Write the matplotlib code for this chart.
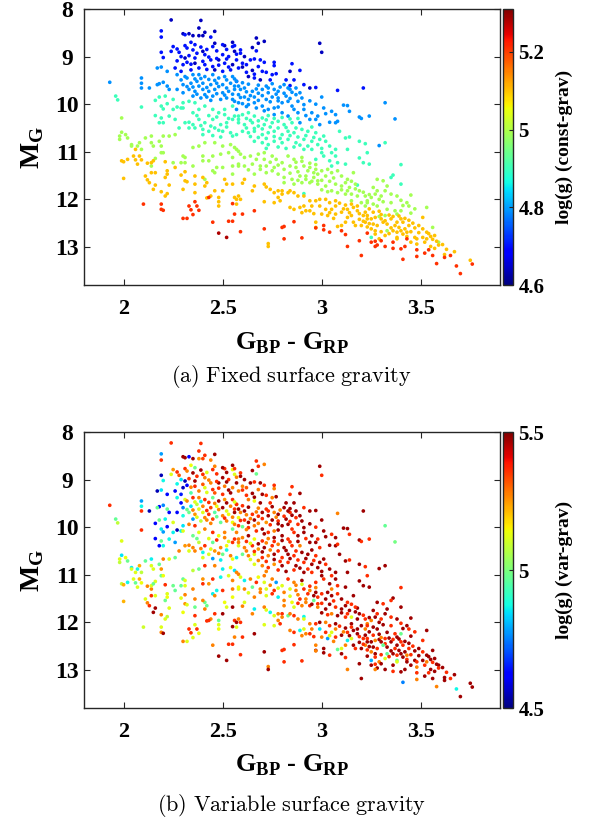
import numpy as np
import matplotlib
matplotlib.use('Agg')
import matplotlib.pyplot as plt

plt.rcParams['font.family'] = ['Liberation Serif', 'DejaVu Serif']
plt.rcParams['mathtext.fontset'] = 'custom'
plt.rcParams['mathtext.rm'] = 'Liberation Serif'
plt.rcParams['mathtext.bf'] = 'Liberation Serif:bold'

# %% star positions, grouped by the colour band they get in the fixed-gravity panel
logg_navy, logg_blue, logg_azure, logg_aqua = 4.64, 4.70, 4.79, 4.90
logg_yg, logg_orange, logg_red, logg_darkred = 4.99, 5.10, 5.21, 5.28

navy_bp_rp = [2.24, 2.39, 2.38, 2.41, 2.46, 2.30, 2.33, 2.35, 2.38, 2.40,
              2.31, 2.40, 2.46, 2.51, 2.55, 2.56, 2.48, 2.36, 2.55, 2.46,
              2.67, 2.71, 2.65, 2.61, 2.60, 2.65, 2.63, 2.69, 2.84, 2.94,
              2.99, 3.00, 2.68]
navy_mg = [8.23, 8.24, 8.40, 8.49, 8.47, 8.52, 8.52, 8.56, 8.56, 8.56,
           9.03, 8.89, 8.72, 8.77, 8.70, 8.89, 9.07, 9.14, 9.17, 9.28,
           8.61, 8.68, 8.81, 9.00, 9.22, 9.29, 9.42, 9.49, 9.31, 9.66,
           8.72, 8.91, 8.72]
navy_logg_var = [5.36, 5.36, 5.36, 5.36, 5.47, 5.47, 4.62, 5.47, 5.25, 5.34,
                 4.55, 5.36, 5.27, 5.36, 5.47, 5.12, 5.47, 5.36, 5.27, 5.32,
                 5.36, 5.27, 5.47, 5.47, 5.36, 5.47, 5.28, 5.47, 5.36, 5.47,
                 5.47, 5.36, 5.36]

blue_bp_rp = [2.19, 2.19, 2.31, 2.44, 2.34, 2.36, 2.31, 2.25, 2.24, 2.28,
              2.19, 2.20, 2.29, 2.32, 2.30, 2.35, 2.37, 2.41, 2.45, 2.50,
              2.55, 2.53, 2.50, 2.44, 2.40, 2.41, 2.45, 2.51, 2.57, 2.34,
              2.29, 2.38, 2.50, 2.54, 2.58, 2.59, 2.59, 2.56, 2.67, 2.64,
              2.66, 2.69, 2.71, 2.76, 2.76, 2.85, 2.89, 2.60, 2.62, 2.68,
              2.70, 2.72, 2.77, 2.75, 2.66, 2.74, 2.82, 2.86, 2.91, 2.97,
              2.84, 2.57, 3.08, 3.21,
              2.27, 2.32, 2.39, 2.42, 2.47, 2.52, 2.57, 2.33, 2.36, 2.43,
              2.47, 2.52, 2.27, 2.34, 2.48, 2.53, 2.42, 2.26, 2.62, 2.66]
blue_mg = [8.46, 8.59, 8.54, 8.59, 8.70, 8.75, 8.77, 8.79, 8.89, 8.91,
           8.91, 9.02, 9.00, 9.12, 9.17, 8.86, 8.93, 8.96, 8.79, 8.75,
           8.79, 9.00, 8.96, 9.07, 9.10, 9.17, 9.21, 9.14, 9.07, 9.28,
           9.31, 9.24, 9.31, 9.28, 9.24, 8.86, 8.93, 8.77, 8.88, 9.07,
           9.05, 9.07, 9.12, 9.12, 9.19, 9.15, 9.29, 9.14, 9.17, 9.21,
           9.31, 9.33, 9.36, 9.38, 9.45, 9.49, 9.49, 9.49, 9.59, 9.65,
           9.61, 9.52, 9.71, 9.66,
           8.84, 8.82, 8.80, 8.85, 8.88, 8.85, 8.95, 8.98, 9.03, 9.01,
           9.04, 9.05, 9.09, 9.16, 9.18, 9.22, 9.27, 9.24, 9.33, 9.37]
blue_logg_var = [4.78, 5.36, 5.47, 5.27, 5.14, 4.98, 5.36, 5.25, 5.12, 5.32,
                 4.55, 4.87, 4.85, 4.62, 4.56, 5.47, 5.36, 5.27, 5.36, 5.47,
                 5.14, 5.36, 5.47, 5.27, 5.32, 5.12, 5.36, 5.28, 5.47, 4.95,
                 4.65, 5.27, 5.36, 5.47, 5.27, 5.36, 5.47, 5.36, 4.98, 5.47,
                 5.36, 5.47, 5.36, 5.36, 5.27, 5.36, 5.47, 5.27, 5.32, 5.28,
                 5.47, 5.36, 5.47, 5.27, 5.14, 5.36, 5.47, 5.47, 5.36, 5.47,
                 5.47, 5.27, 5.27, 5.47,
                 5.36, 5.27, 5.47, 5.12, 5.36, 5.47, 5.27, 5.36, 5.47, 5.27,
                 5.36, 5.47, 4.87, 5.27, 5.36, 5.47, 5.12, 4.63, 5.36, 5.47]

azure_bp_rp = [2.27, 2.29, 2.31, 2.35, 2.38, 2.41, 2.45, 2.48, 2.51, 2.55,
               2.30, 2.34, 2.37, 2.40, 2.44, 2.47, 2.50, 2.54, 2.57, 2.27,
               2.30, 2.33, 2.36, 2.40, 2.43, 2.46, 2.50, 2.53, 2.56, 2.35,
               2.39, 2.42, 2.45, 2.49, 2.52, 2.55, 2.58, 2.57, 2.17, 2.19,
               2.22, 2.09, 2.09, 2.09, 2.18, 2.17, 2.20, 2.22, 2.23, 2.13,
               1.93,
               2.56, 2.59, 2.61, 2.65, 2.67, 2.70, 2.73, 2.76, 2.78, 2.81,
               2.84, 2.87, 2.58, 2.61, 2.64, 2.66, 2.70, 2.72, 2.75, 2.78,
               2.82, 2.87, 2.89, 3.00, 2.56, 2.60, 2.63, 2.66, 2.70, 2.73,
               2.76, 2.80, 2.83, 2.88, 2.91, 2.91, 2.86, 2.80, 2.83, 2.76,
               2.95, 2.98, 2.97, 3.01, 3.05, 3.07, 3.11, 3.13, 3.14, 3.19,
               3.20, 3.04, 3.07, 3.08, 2.89, 2.94, 2.99,
               3.32, 3.24, 3.37, 3.29,
               2.32, 2.36, 2.39, 2.43, 2.46, 2.52, 2.56, 2.60, 2.63, 2.68,
               2.72, 2.75, 2.79, 2.83, 2.32, 2.35, 2.38, 2.42, 2.48, 2.52,
               2.58, 2.62, 2.68, 2.73, 2.77, 2.81, 2.85, 2.37, 2.41, 2.47,
               2.51, 2.55, 2.59, 2.63, 2.68, 2.74, 2.78, 2.84, 2.90, 2.94,
               2.97, 2.62, 2.67, 2.71, 2.78, 2.85, 2.88, 2.92, 3.02, 2.44]
azure_mg = [9.38, 9.49, 9.42, 9.38, 9.38, 9.42, 9.38, 9.45, 9.42, 9.42,
            9.59, 9.56, 9.52, 9.56, 9.59, 9.56, 9.59, 9.56, 9.52, 9.69,
            9.76, 9.69, 9.73, 9.69, 9.73, 9.69, 9.76, 9.73, 9.69, 9.83,
            9.87, 9.85, 9.83, 9.90, 9.87, 9.90, 9.97, 10.11, 9.24, 9.22,
            9.31, 9.45, 9.56, 9.66, 9.57, 9.59, 9.54, 9.62, 9.69, 9.66,
            9.54,
            9.62, 9.69, 9.66, 9.73, 9.68, 9.69, 9.66, 9.69, 9.73, 9.59,
            9.69, 9.66, 9.80, 9.85, 9.82, 9.85, 9.82, 9.90, 9.85, 9.87,
            9.83, 9.80, 9.76, 9.85, 9.94, 9.99, 10.01, 9.97, 10.04, 10.11,
            10.08, 9.97, 9.94, 9.94, 10.01, 10.11, 10.11, 10.18, 10.25, 10.22,
            10.18, 10.25, 10.32, 10.08, 10.15, 10.22, 10.02, 10.03, 10.15, 10.27,
            10.30, 10.38, 10.39, 10.36, 10.39, 10.32, 10.43,
            9.97, 10.25, 10.31, 10.87,
            9.45, 9.47, 9.46, 9.48, 9.50, 9.49, 9.47, 9.55, 9.58, 9.60,
            9.62, 9.57, 9.64, 9.66, 9.63, 9.64, 9.62, 9.65, 9.63, 9.66,
            9.62, 9.74, 9.77, 9.76, 9.79, 9.77, 9.75, 9.79, 9.80, 9.78,
            9.81, 9.79, 9.86, 9.90, 9.92, 9.95, 9.93, 9.88, 9.87, 9.93,
            10.00, 10.05, 10.08, 10.14, 10.06, 10.04, 10.18, 10.24, 10.20, 9.92]
azure_logg_var = [4.87, 4.62, 5.12, 5.36, 5.27, 5.36, 4.98, 5.47, 5.25, 5.36,
                  4.75, 4.85, 5.08, 5.27, 5.34, 5.14, 5.47, 5.27, 5.36, 4.63,
                  4.88, 4.98, 5.25, 5.12, 5.36, 4.95, 5.27, 5.14, 5.47, 4.78,
                  5.08, 5.27, 5.34, 4.97, 5.27, 5.14, 5.36, 5.27, 4.55, 4.85,
                  4.63, 4.78, 4.87, 5.36, 4.62, 4.97, 4.76, 4.98, 4.63, 4.55,
                  5.36,
                  5.36, 5.27, 5.47, 5.36, 5.28, 5.47, 5.36, 5.27, 5.47, 5.47,
                  5.36, 5.47, 5.14, 5.36, 5.27, 5.47, 5.36, 5.25, 5.47, 5.36,
                  5.47, 5.36, 5.47, 5.47, 5.27, 4.98, 5.36, 5.28, 5.47, 5.36,
                  5.27, 5.47, 5.47, 5.36, 5.47, 5.47, 5.36, 5.47, 5.36, 5.47,
                  5.47, 5.36, 5.47, 5.47, 5.36, 5.47, 5.47, 5.47, 5.36, 5.47,
                  5.36, 5.47, 5.47, 5.36, 5.27, 5.47, 5.36,
                  4.97, 5.36, 4.99, 5.47,
                  5.27, 5.12, 4.87, 5.36, 5.27, 5.47, 5.12, 5.36, 5.47, 5.27,
                  5.36, 5.47, 5.27, 5.47, 4.98, 5.27, 5.12, 5.36, 5.27, 5.12,
                  5.47, 5.27, 5.36, 5.47, 5.27, 5.36, 5.47, 5.12, 5.27, 4.98,
                  5.36, 5.27, 5.36, 5.47, 5.27, 5.36, 5.47, 5.36, 5.47, 5.47,
                  5.36, 5.27, 5.36, 5.47, 5.47, 5.36, 5.47, 5.36, 5.47, 5.27]

aqua_bp_rp = [1.96, 1.97, 2.16, 2.18, 2.19, 2.21, 2.22, 2.20, 2.25, 2.27,
              2.25, 2.29, 2.30, 2.30, 2.33, 2.36, 2.35, 2.38, 2.41, 2.45,
              2.48, 2.51, 2.55, 2.16, 2.19, 2.23, 2.26, 2.31, 2.35, 2.38,
              2.41, 2.45, 2.49, 2.52, 2.55, 2.58, 2.28, 2.33, 2.36, 2.40,
              2.43, 2.46, 2.50, 2.54, 2.57, 2.18, 2.20, 2.09, 2.40, 2.45,
              2.49, 2.55,
              2.56, 2.60, 2.63, 2.66, 2.70, 2.73, 2.58, 2.61, 2.65, 2.68,
              2.71, 2.75, 2.78, 2.81, 2.85, 2.60, 2.63, 2.66, 2.70, 2.73,
              2.76, 2.80, 2.83, 2.86, 2.90, 2.93, 2.97, 3.01, 2.66, 2.70,
              2.73, 2.76, 2.80, 2.83, 2.87, 2.91, 2.95, 2.98, 3.02, 3.04,
              3.07, 3.09, 3.12, 3.14, 3.19, 3.22, 3.13, 3.01, 3.04, 3.07,
              3.08, 3.12, 3.05, 3.19, 3.21, 3.23, 2.97, 2.91, 2.95, 3.00,
              3.32, 3.24, 3.40, 3.36, 3.35, 3.40, 3.25, 3.18, 2.91,
              2.58, 2.62, 2.64, 2.68, 2.72, 2.76, 2.80, 2.84, 2.88, 2.62,
              2.66, 2.70, 2.74, 2.78, 2.82, 2.87, 2.95, 2.64, 2.68, 2.72,
              2.76, 2.79, 2.84, 2.88, 2.92, 2.96, 2.99, 2.72, 2.78, 2.82,
              2.86, 2.89, 2.93, 3.00, 3.05, 2.44, 2.48, 2.52, 2.39, 2.43,
              2.47, 2.51, 2.37, 2.53, 2.33]
aqua_mg = [9.83, 9.91, 9.92, 9.85, 10.04, 9.83, 9.99, 10.10, 9.90, 10.06,
           10.11, 10.08, 10.08, 9.97, 9.94, 9.97, 10.18, 10.11, 10.04, 10.11,
           10.18, 10.11, 10.04, 10.24, 10.29, 10.25, 10.32, 10.39, 10.43, 10.32,
           10.39, 10.32, 10.43, 10.39, 10.32, 10.25, 10.50, 10.50, 10.50, 10.53,
           10.57, 10.50, 10.57, 10.60, 10.64, 10.39, 10.39, 10.06, 10.64, 10.66,
           10.69, 10.67,
           10.25, 10.22, 10.18, 10.25, 10.29, 10.24, 10.39, 10.43, 10.39, 10.46,
           10.43, 10.39, 10.36, 10.43, 10.39, 10.57, 10.60, 10.57, 10.64, 10.60,
           10.57, 10.64, 10.57, 10.60, 10.53, 10.57, 10.60, 10.67, 10.78, 10.81,
           10.85, 10.78, 10.81, 10.74, 10.81, 10.74, 10.78, 10.85, 10.78, 10.88,
           10.95, 10.57, 10.71, 10.69, 10.78, 10.83, 10.95, 11.09, 11.19, 11.09,
           11.23, 11.26, 11.30, 11.13, 11.23, 11.02, 11.16, 10.95, 10.95, 11.02,
           10.81, 11.26, 11.27, 11.49, 11.54, 11.68, 12.80, 11.70, 11.88,
           10.32, 10.30, 10.34, 10.35, 10.33, 10.30, 10.28, 10.31, 10.30, 10.50,
           10.51, 10.52, 10.48, 10.50, 10.49, 10.50, 10.48, 10.68, 10.70, 10.72,
           10.68, 10.72, 10.66, 10.69, 10.66, 10.70, 10.74, 10.93, 10.90, 10.93,
           10.90, 10.86, 10.88, 10.93, 11.02, 10.46, 10.55, 10.48, 10.45, 10.24,
           10.27, 10.22, 10.24, 10.30, 10.38]
aqua_logg_var = [4.97, 5.08, 4.62, 4.98, 4.86, 4.87, 4.63, 4.78, 5.12, 4.55,
                 4.86, 4.87, 5.12, 4.85, 5.27, 5.36, 4.98, 5.12, 5.27, 5.36,
                 5.14, 5.27, 4.97, 4.62, 4.98, 4.87, 4.78, 5.25, 5.27, 5.08,
                 5.36, 4.97, 5.27, 5.14, 5.36, 5.28, 5.27, 5.12, 5.27, 4.87,
                 5.12, 5.25, 4.98, 5.27, 4.86, 4.63, 4.87, 5.36, 5.12, 4.78,
                 4.86, 5.14,
                 5.36, 5.27, 5.47, 5.14, 5.36, 5.27, 5.12, 5.27, 5.36, 5.25,
                 5.47, 5.36, 5.28, 5.47, 5.36, 4.98, 5.27, 5.12, 5.36, 5.27,
                 5.47, 5.36, 5.47, 5.36, 5.47, 5.47, 5.36, 5.47, 5.12, 5.27,
                 5.36, 5.25, 5.47, 5.36, 5.47, 5.36, 5.47, 5.47, 5.36, 5.47,
                 5.47, 5.47, 5.47, 5.36, 5.47, 5.36, 5.47, 5.36, 5.47, 5.47,
                 5.36, 5.47, 5.27, 5.47, 5.47, 5.36, 5.36, 5.47, 5.36, 5.47,
                 5.47, 5.47, 5.36, 5.47, 5.36, 5.47, 4.80, 5.47, 4.87,
                 5.27, 5.36, 5.12, 5.47, 5.27, 5.36, 5.47, 5.36, 5.47, 5.27,
                 5.36, 5.47, 5.27, 5.36, 5.47, 5.36, 5.47, 5.12, 5.27, 5.36,
                 5.47, 5.36, 5.47, 5.36, 5.47, 5.36, 5.47, 5.27, 5.36, 5.47,
                 5.36, 5.47, 5.36, 5.47, 5.36, 5.12, 5.27, 4.87, 5.27, 5.12,
                 5.36, 5.27, 4.98, 5.12, 5.27]

yg_bp_rp = [1.99, 1.99, 1.98, 2.01, 2.02, 1.98, 2.04, 2.04, 2.08, 2.07,
            2.11, 2.14, 2.14, 2.18, 2.20, 2.23, 2.19, 2.15, 2.09, 2.19,
            2.20, 2.26, 2.30, 2.31, 2.35, 2.38, 2.41, 2.46, 2.50, 2.54,
            2.56, 2.58, 2.40, 2.45, 2.49, 2.53, 2.55, 2.16, 2.14, 2.25,
            2.29, 2.31, 2.35, 2.40, 2.43, 2.45, 2.47, 2.50, 2.55, 2.58,
            2.46, 2.41, 2.55,
            2.57, 2.59, 2.61, 2.64, 2.68, 2.67, 2.71, 2.71, 2.75, 2.77,
            2.80, 2.83, 2.86, 2.90, 2.58, 2.61, 2.65, 2.69, 2.72, 2.76,
            2.81, 2.84, 2.87, 2.91, 2.94, 2.97, 2.98, 2.66, 2.72, 2.78,
            2.81, 2.85, 2.89, 2.92, 2.96, 2.98, 3.02, 3.05, 3.08, 3.10,
            3.13, 3.16, 2.81, 2.86, 2.90, 2.94, 2.98, 3.02, 3.07, 3.10,
            3.14, 3.17, 3.19, 3.05, 3.08, 3.12, 3.15, 3.18, 3.22, 3.20,
            3.23, 3.15,
            3.28, 3.31, 3.33, 3.26, 3.28, 3.27, 3.32, 3.35, 3.38, 3.45,
            3.25, 3.29, 3.23, 3.26, 3.22, 3.28, 3.35, 3.33, 3.37, 3.43,
            3.44, 3.45, 3.53, 3.40, 3.38, 3.32, 3.56, 3.59, 3.33, 3.29,
            2.87, 2.90, 2.94, 2.97, 2.93, 2.96, 3.00, 3.03, 2.88, 2.84,
            2.88, 2.92, 2.95, 3.00, 3.04, 3.06, 3.12, 3.15, 3.00, 3.03,
            3.10, 3.13, 3.17, 3.21, 3.24, 3.30, 3.31, 3.40, 3.41, 3.47,
            2.74, 2.78, 2.69, 2.63, 2.75]
yg_mg = [10.29, 10.59, 10.67, 10.64, 10.71, 10.74, 10.85, 10.88, 10.81, 10.88,
         10.71, 10.67, 10.81, 10.78, 10.67, 10.67, 10.88, 10.88, 10.95, 11.02,
         11.02, 10.64, 11.09, 11.12, 10.91, 10.88, 10.81, 10.81, 10.88, 10.85,
         10.91, 10.99, 11.09, 11.09, 11.05, 11.02, 11.12, 11.14, 11.30, 11.23,
         11.23, 11.23, 11.30, 11.19, 11.19, 11.40, 11.33, 11.33, 11.30, 11.30,
         11.44, 11.58, 11.47,
         10.95, 11.05, 11.12, 11.09, 11.05, 11.16, 11.02, 11.16, 11.09, 11.16,
         11.23, 11.09, 11.16, 11.12, 11.26, 11.30, 11.26, 11.30, 11.30, 11.33,
         11.37, 11.30, 11.33, 11.30, 11.33, 11.37, 11.47, 11.47, 11.44, 11.47,
         11.54, 11.58, 11.51, 11.51, 11.54, 11.61, 11.51, 11.44, 11.40, 11.51,
         11.58, 11.44, 11.65, 11.68, 11.65, 11.65, 11.68, 11.72, 11.68, 11.72,
         11.75, 11.68, 11.82, 11.82, 11.86, 11.89, 11.89, 11.93, 11.93, 12.07,
         12.03, 12.03,
         11.58, 11.61, 11.72, 11.75, 11.82, 11.89, 11.82, 11.89, 11.93, 11.91,
         11.96, 12.00, 12.07, 12.10, 12.14, 12.14, 12.07, 12.21, 12.24, 12.07,
         12.14, 12.29, 12.17, 12.24, 12.31, 12.34, 12.59, 12.90, 12.66, 12.36,
         11.22, 11.20, 11.24, 11.27, 11.40, 11.44, 11.40, 11.37, 11.42, 11.45,
         11.60, 11.58, 11.62, 11.60, 11.62, 11.55, 11.65, 11.62, 11.80, 11.84,
         11.80, 11.82, 11.78, 11.85, 11.90, 11.93, 12.05, 12.02, 12.13, 12.20,
         11.22, 11.28, 11.37, 11.38, 11.40]
yg_logg_var = [5.12, 4.85, 5.12, 5.14, 4.98, 5.08, 4.86, 5.12, 5.22, 4.87,
               4.97, 4.86, 5.12, 4.98, 5.27, 5.12, 5.25, 5.12, 5.08, 4.98,
               5.14, 4.97, 4.97, 5.12, 5.08, 4.98, 5.36, 5.27, 4.86, 5.14,
               4.85, 5.27, 5.25, 5.36, 4.87, 5.12, 5.27, 5.12, 5.27, 4.98,
               4.97, 5.12, 5.27, 5.36, 5.25, 4.86, 4.87, 5.36, 5.27, 5.12,
               5.27, 4.98, 5.14,
               5.27, 5.12, 4.86, 5.27, 5.14, 5.36, 5.28, 5.12, 5.27, 4.78,
               5.12, 5.36, 5.27, 5.47, 5.14, 5.27, 4.98, 5.25, 5.12, 5.36,
               5.27, 5.12, 5.28, 5.36, 5.27, 5.47, 5.36, 5.27, 5.12, 4.86,
               5.27, 5.14, 5.36, 5.27, 4.98, 5.36, 5.47, 5.47, 5.36, 5.47,
               5.36, 5.47, 5.27, 5.12, 5.27, 5.36, 5.27, 5.47, 5.36, 5.47,
               5.47, 5.36, 5.47, 5.27, 5.47, 5.36, 5.12, 5.47, 5.36, 5.47,
               5.27, 5.47,
               5.47, 5.36, 5.47, 5.47, 5.36, 5.47, 5.47, 5.36, 5.47, 5.47,
               5.27, 5.47, 5.36, 5.47, 5.27, 5.47, 5.36, 5.47, 5.36, 5.47,
               5.36, 5.47, 5.47, 4.98, 5.47, 5.36, 5.47, 5.47, 4.97, 5.47,
               5.27, 5.12, 5.36, 5.27, 5.36, 5.47, 5.36, 5.47, 5.27, 5.12,
               5.36, 5.27, 5.47, 5.36, 5.47, 5.36, 5.47, 5.36, 5.47, 5.36,
               5.47, 5.36, 5.47, 5.36, 5.47, 5.36, 5.47, 5.36, 5.47, 5.36,
               5.27, 5.12, 5.27, 5.12, 5.36]

orange_bp_rp = [2.06, 2.08, 2.05, 2.06, 2.09, 1.99, 2.00, 2.02, 2.07, 2.12,
                2.14, 2.15, 2.21, 2.11, 2.12, 2.14, 2.16, 2.13, 2.16, 2.15,
                2.00, 2.22, 2.22, 2.21, 2.26, 2.29, 2.31, 2.31, 2.32, 2.36,
                2.36, 2.30, 2.23, 2.22, 2.19, 2.21, 2.36, 2.40, 2.42, 2.46,
                2.50, 2.51, 2.52, 2.55, 2.56, 2.57, 2.48, 2.48, 2.48, 2.44,
                2.42, 2.41,
                2.60, 2.61, 2.58, 2.59, 2.57, 2.65, 2.66, 2.71, 2.72, 2.74,
                2.78, 2.80, 2.76, 2.80, 2.83, 2.84, 2.86, 2.88, 2.91, 2.94,
                2.97, 2.99, 3.02, 3.04, 3.07, 3.07, 3.05, 3.02, 2.99, 3.00,
                3.03, 3.07, 3.10, 3.13, 3.16, 3.18, 3.21, 3.23, 3.13, 3.16,
                3.17, 3.12, 3.10, 2.78, 2.76, 2.79, 2.84, 2.86, 2.89, 2.92,
                2.94, 2.91, 2.95, 2.71, 2.73, 2.73, 2.97, 2.97, 3.08,
                3.22, 3.23, 3.25, 3.27, 3.30, 3.32, 3.35, 3.38, 3.40, 3.42,
                3.22, 3.26, 3.28, 3.31, 3.33, 3.37, 3.39, 3.42, 3.44, 3.25,
                3.27, 3.30, 3.36, 3.38, 3.41, 3.43, 3.47, 3.48, 3.51, 3.53,
                3.53, 3.55, 3.57, 3.49, 3.51, 3.38, 3.38, 3.45, 3.48, 3.52,
                3.55, 3.57, 3.59, 3.62, 3.67, 3.75, 3.27, 3.32, 3.29,
                3.09, 3.12, 3.15, 3.18, 3.11, 3.14, 3.19, 3.24, 3.26, 3.29,
                3.30, 3.34, 3.36, 3.39, 3.41, 3.44, 3.46, 3.47, 3.45, 3.49,
                3.51, 3.54, 3.56, 3.58, 3.61, 3.63, 3.19, 3.21, 3.20, 3.23,
                3.35, 3.34, 3.40, 3.43, 3.04, 3.06, 2.96, 2.90, 3.15, 3.24]
orange_mg = [10.95, 11.09, 11.09, 11.17, 11.17, 11.19, 11.21, 11.16, 11.26, 11.24,
             11.23, 11.19, 11.21, 11.51, 11.59, 11.44, 11.44, 11.65, 11.70, 11.79,
             11.56, 11.40, 11.47, 11.54, 11.33, 11.49, 11.42, 11.61, 11.63, 11.51,
             11.68, 11.79, 11.70, 11.88, 11.84, 11.93, 11.86, 11.54, 11.65, 11.82,
             11.82, 11.58, 11.68, 11.68, 11.96, 12.00, 11.96, 12.05, 12.14, 11.93,
             11.97, 11.72,
             11.66, 11.58, 11.93, 12.00, 12.10, 11.82, 11.72, 11.68, 11.74, 11.79,
             11.82, 11.82, 11.86, 11.89, 11.86, 11.82, 11.86, 11.93, 11.93, 12.03,
             12.03, 12.00, 12.00, 12.07, 12.03, 12.14, 12.21, 12.21, 12.14, 12.31,
             12.34, 12.31, 12.27, 12.21, 12.17, 12.24, 12.34, 12.41, 12.38, 12.48,
             12.55, 12.48, 12.55, 11.96, 12.07, 12.03, 12.17, 12.21, 12.17, 12.24,
             12.24, 12.14, 12.14, 12.05, 12.93, 12.99, 12.48, 12.59, 12.57,
             12.27, 12.34, 12.41, 12.38, 12.41, 12.45, 12.41, 12.48, 12.41, 12.40,
             12.48, 12.52, 12.55, 12.48, 12.52, 12.55, 12.59, 12.62, 12.55, 12.62,
             12.66, 12.68, 12.66, 12.69, 12.73, 12.69, 12.80, 12.83, 12.80, 12.69,
             12.83, 12.78, 12.76, 12.55, 12.38, 12.80, 12.83, 12.90, 12.94, 12.90,
             12.99, 13.03, 12.96, 13.16, 13.10, 13.28, 12.73, 12.76, 12.83,
             12.08, 12.12, 12.10, 12.14, 12.20, 12.28, 12.30, 12.20, 12.27, 12.25,
             12.32, 12.33, 12.36, 12.35, 12.48, 12.44, 12.50, 12.60, 12.68, 12.70,
             12.62, 12.72, 12.84, 12.88, 12.95, 13.05, 12.42, 12.46, 12.55, 12.58,
             12.60, 12.72, 12.66, 12.78, 12.28, 12.40, 12.30, 12.28, 12.34, 12.51]
orange_logg_var = [5.12, 5.22, 5.12, 4.97, 5.14, 5.08, 5.22, 4.87, 5.12, 5.27,
                   5.12, 4.98, 5.36, 5.12, 5.27, 5.36, 5.12, 5.36, 5.47, 5.47,
                   5.22, 5.12, 5.14, 4.98, 4.97, 5.12, 5.27, 5.25, 5.12, 5.27,
                   4.98, 5.14, 5.12, 5.08, 5.27, 5.12, 5.36, 5.27, 4.98, 5.36,
                   5.47, 5.14, 5.12, 5.47, 5.36, 5.47, 4.97, 5.12, 5.14, 5.27,
                   5.36, 5.27,
                   5.27, 5.12, 5.27, 5.36, 5.12, 5.27, 4.86, 5.27, 5.12, 4.87,
                   5.27, 5.36, 5.12, 5.27, 4.98, 5.28, 5.36, 5.27, 5.12, 5.27,
                   5.36, 5.47, 5.27, 5.36, 5.47, 5.27, 5.12, 5.36, 4.85, 5.27,
                   4.78, 5.36, 5.47, 5.36, 5.47, 5.47, 5.36, 5.47, 4.86, 5.47,
                   5.36, 5.27, 5.12, 5.27, 5.12, 5.36, 5.27, 5.36, 4.87, 5.27,
                   5.36, 5.12, 5.27, 5.12, 5.27, 5.47, 5.27, 5.47, 4.97,
                   5.47, 5.36, 5.47, 5.27, 5.47, 5.36, 5.47, 5.47, 5.36, 5.47,
                   5.27, 5.47, 5.36, 4.97, 5.47, 5.36, 5.47, 5.47, 5.36, 5.27,
                   5.47, 5.36, 5.47, 5.36, 5.47, 5.27, 5.47, 5.36, 5.47, 5.47,
                   5.27, 5.47, 5.47, 5.47, 5.36, 4.98, 5.12, 5.47, 5.27, 5.36,
                   5.47, 5.47, 5.36, 5.47, 5.47, 5.47, 5.36, 5.12, 5.27,
                   5.36, 5.47, 5.36, 5.47, 5.27, 5.47, 5.36, 5.47, 5.36, 5.47,
                   5.27, 5.47, 5.36, 5.47, 5.36, 5.47, 5.36, 5.47, 5.36, 5.47,
                   5.36, 5.47, 5.36, 5.47, 5.47, 5.36, 5.47, 5.36, 5.47, 5.36,
                   5.47, 5.36, 5.47, 5.36, 5.12, 5.27, 5.36, 5.27, 5.12, 5.47]

red_bp_rp = [2.10, 2.19, 2.19, 2.20, 2.33, 2.36, 2.37, 2.38, 2.34, 2.35,
             2.30, 2.32, 2.43, 2.45, 2.53, 2.55, 2.55, 2.56, 2.59,
             2.60, 2.66, 2.71, 2.80, 2.81, 2.86, 2.81, 2.90, 2.97, 3.01,
             3.01, 3.04, 3.10, 3.12, 3.13, 3.19, 3.20, 3.23,
             3.25, 3.27, 3.28, 3.30, 3.27, 3.32, 3.36, 3.36, 3.40, 3.42,
             3.41, 3.43, 3.48, 3.48, 3.52, 3.54, 3.56, 3.58, 3.62, 3.65,
             3.68, 3.70, 3.76]
red_mg = [12.10, 12.10, 12.21, 12.23, 12.14, 12.05, 12.14, 12.23, 12.22, 12.32,
          12.40, 12.40, 11.96, 12.48, 12.46, 12.46, 12.09, 12.31, 12.68,
          12.31, 12.24, 12.62, 12.59, 12.57, 12.47, 12.83, 12.81, 12.60, 12.55,
          12.64, 12.69, 12.66, 12.74, 12.99, 12.87, 13.18, 12.71,
          12.90, 12.88, 12.96, 12.87, 12.99, 12.99, 12.90, 13.03, 13.04, 12.99,
          13.26, 12.83, 13.20, 13.06, 13.13, 13.06, 13.18, 13.35, 13.22, 13.18,
          13.40, 13.56, 13.36]
red_logg_var = [5.10, 5.12, 5.27, 5.47, 5.36, 5.12, 5.36, 5.14, 5.36, 5.12,
                5.27, 5.12, 5.36, 5.27, 5.36, 5.36, 5.47, 5.27, 5.36,
                5.36, 5.47, 5.47, 5.36, 5.36, 5.36, 5.36, 5.36, 5.27, 5.47,
                5.47, 5.36, 5.47, 5.36, 5.27, 5.47, 5.47, 5.47,
                5.47, 5.36, 5.47, 5.47, 5.27, 5.47, 5.47, 5.36, 5.47, 5.47,
                4.75, 5.47, 5.27, 5.36, 5.47, 5.36, 5.47, 5.27, 5.47, 5.36,
                4.87, 5.47, 5.47]

darkred_bp_rp = [2.48, 2.52]
darkred_mg = [12.71, 12.80]
darkred_logg_var = [5.47, 5.47]

# %%
bands = [(navy_bp_rp, navy_mg, navy_logg_var, logg_navy),
         (blue_bp_rp, blue_mg, blue_logg_var, logg_blue),
         (azure_bp_rp, azure_mg, azure_logg_var, logg_azure),
         (aqua_bp_rp, aqua_mg, aqua_logg_var, logg_aqua),
         (yg_bp_rp, yg_mg, yg_logg_var, logg_yg),
         (orange_bp_rp, orange_mg, orange_logg_var, logg_orange),
         (red_bp_rp, red_mg, red_logg_var, logg_red),
         (darkred_bp_rp, darkred_mg, darkred_logg_var, logg_darkred)]

bp_rp = np.concatenate([b[0] for b in bands])
m_g = np.concatenate([b[1] for b in bands])
logg_var = np.concatenate([b[2] for b in bands])
logg_const = np.concatenate([np.full(len(b[0]), b[3]) for b in bands])

W, H = 595, 822
fig = plt.figure(figsize=(W / 100, H / 100), dpi=100)
edge = '#262626'


def draw_panel(top_px, colours, vmin, vmax, cticks, cticklabels, clabel, caption, caption_px):
    bottom = 1 - (top_px + 276) / H
    ax = fig.add_axes([84 / W, bottom, 416 / W, 276 / H])
    cax = fig.add_axes([503 / W, bottom, 10 / W, 276 / H])

    sc = ax.scatter(bp_rp, m_g, c=colours, cmap='jet', vmin=vmin, vmax=vmax,
                    s=7, linewidths=0)
    ax.set_xlim(1.8, 3.9)
    ax.set_ylim(13.8, 8)
    ax.set_xticks([2, 2.5, 3, 3.5])
    ax.set_xticklabels(['2', '2.5', '3', '3.5'])
    ax.set_yticks([8, 9, 10, 11, 12, 13])
    ax.tick_params(direction='in', top=True, right=True, length=4, width=0.8, color=edge)
    ax.tick_params(axis='x', labelsize=16, pad=10)
    ax.tick_params(axis='y', labelsize=17, pad=12)
    for lab in ax.get_xticklabels():
        lab.set_fontweight('bold')
    for lab in ax.get_yticklabels():
        lab.set_fontweight('bold')
        lab.set_ha('center')
    for sp in ax.spines.values():
        sp.set_color(edge)
        sp.set_linewidth(1.0)
    ax.set_xlabel(r'$\mathbf{G}_{\mathbf{BP}}$ - $\mathbf{G}_{\mathbf{RP}}$',
                  fontsize=19, fontweight='bold', labelpad=8)
    ax.set_ylabel(r'$\mathbf{M}_{\mathbf{G}}$', fontsize=20, labelpad=7)

    cb = fig.colorbar(sc, cax=cax)
    cb.set_ticks(cticks)
    cb.set_ticklabels(cticklabels)
    cb.outline.set_edgecolor(edge)
    cb.outline.set_linewidth(1.0)
    cax.tick_params(direction='in', length=3, width=0.8, color=edge, labelsize=15, pad=4)
    for lab in cax.get_yticklabels():
        lab.set_fontweight('bold')
    cb.set_label(clabel, fontsize=14, fontweight='bold', labelpad=8)

    fig.text(0.49, 1 - caption_px / H, caption, fontsize=16, ha='center', va='center',
             math_fontfamily='cm')


draw_panel(9, logg_const, 4.6, 5.31, [4.6, 4.8, 5.0, 5.2], ['4.6', '4.8', '5', '5.2'],
           'log(g) (const-grav)', r'$\mathrm{(a)\ Fixed\ surface\ gravity}$', 376)
draw_panel(432, logg_var, 4.5, 5.5, [4.5, 5.0, 5.5], ['4.5', '5', '5.5'],
           'log(g) (var-grav)', r'$\mathrm{(b)\ Variable\ surface\ gravity}$', 805)

fig.savefig('out.png', dpi=100)
